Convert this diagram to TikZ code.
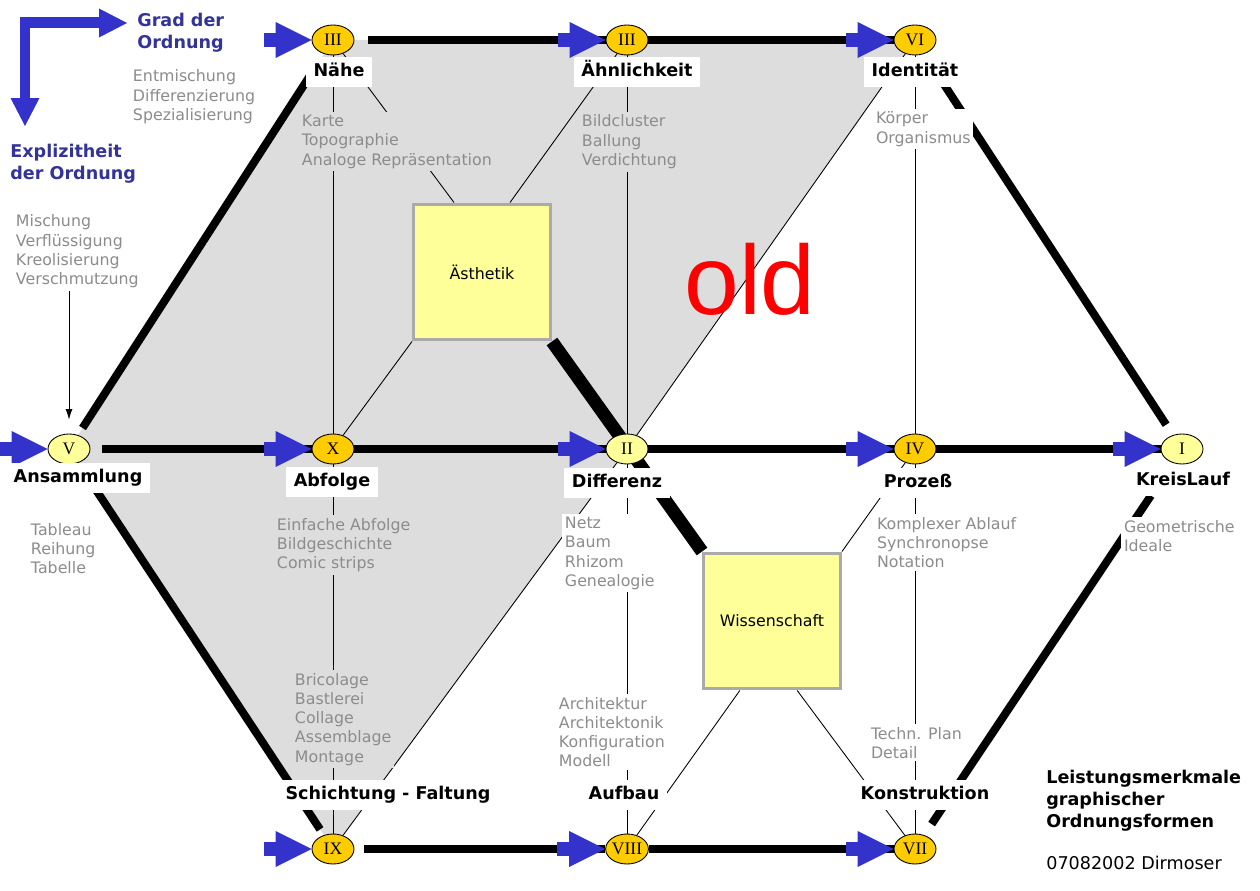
\documentclass[tikz,border=0pt]{standalone}
\usepackage{fontspec}
\setmainfont{DejaVu Sans}
\newfontfamily\numfont{Liberation Serif}
\newfontfamily\oldfont{Liberation Sans}
\usetikzlibrary{shapes.geometric,arrows.meta,calc}

\definecolor{numorange}{RGB}{255,204,0}
\definecolor{numyellow}{RGB}{255,255,153}
\definecolor{shadegray}{RGB}{221,221,221}
\definecolor{notegray}{RGB}{140,140,140}
\definecolor{boxgray}{RGB}{170,170,170}
\definecolor{feedblue}{RGB}{51,51,204}
\definecolor{headblue}{RGB}{51,51,153}

\pgfdeclarelayer{shade}
\pgfdeclarelayer{lines}
\pgfsetlayers{shade,lines,main}

\tikzset{
  ordnum/.style={ellipse, draw, line width=0.5pt, minimum width=0.84cm, minimum height=0.6cm,
    inner sep=0pt, font=\numfont\fontsize{10}{12}\selectfont},
  darknum/.style={ordnum, fill=numorange},
  lightnum/.style={ordnum, fill=numyellow},
  fieldbox/.style={draw=boxgray, line width=1.7pt, fill=numyellow, minimum width=2.74cm,
    minimum height=2.72cm, inner sep=0pt, font=\fontsize{9}{11}\selectfont},
  catlabel/.style={fill=white, inner xsep=4.5pt, inner ysep=3.5pt, text height=0.75em,
    text depth=0.25em, font=\bfseries\fontsize{10}{12}\selectfont},
  notes/.style={anchor=north west, align=left, inner sep=1.5pt, text=notegray,
    font=\fontsize{9}{11}\selectfont},
  titletext/.style={anchor=north west, align=left, inner sep=0pt,
    font=\bfseries\fontsize{10}{12.5}\selectfont},
  hexline/.style={line width=0.16cm},
  guide/.style={line width=0.5pt},
  feedarrow/.style={draw=feedblue, line width=0.28cm,
    -{Triangle[length=0.72cm,width=0.72cm,line width=0pt]}},
}

\begin{document}
\begin{tikzpicture}[x=0.02cm,y=-0.02cm]
  \useasboundingbox (0,0) rectangle (1260,891);

  % ordinal positions
  \node[darknum]  (IIIa) at (333,40)  {III};
  \node[darknum]  (IIIb) at (627,40)  {III};
  \node[darknum]  (VI)   at (915,40)  {VI};
  \node[lightnum] (V)    at (69,449)  {V};
  \node[darknum]  (X)    at (333,449) {X};
  \node[lightnum] (II)   at (627,449) {II};
  \node[darknum]  (IV)   at (915,449) {IV};
  \node[lightnum] (I)    at (1182,449) {I};
  \node[darknum]  (IX)   at (333,849) {IX};
  \node[darknum]  (VIII) at (627,849) {VIII};
  \node[darknum]  (VII)  at (915,849) {VII};

  % fields
  \node[fieldbox] (aesth) at (482,272) {Ästhetik};
  \node[fieldbox] (wiss)  at (772,621) {Wissenschaft};

  % category labels
  \node[catlabel] (naehe)   at (339,72)  {Nähe};
  \node[catlabel] (aehnl)   at (637,72)  {Ähnlichkeit};
  \node[catlabel] (ident)   at (915,72)  {Identität};
  \node[catlabel] (samml)   at (78,478)  {Ansammlung};
  \node[catlabel] (abfolge) at (332,482) {Abfolge};
  \node[catlabel] (diff)    at (617,483) {Differenz};
  \node[catlabel] (prozess) at (918,483) {Prozeß};
  \node[catlabel] (kreis)   at (1183,481) {KreisLauf};
  \node[catlabel] (schicht) at (388,795) {Schichtung - Faltung};
  \node[catlabel] (aufbau)  at (624,795) {Aufbau};
  \node[catlabel] (konstr)  at (925,795) {Konstruktion};

  % notes
  \node[notes, fill=white]     (entm)    at (130,67)  {Entmischung\\Differenzierung\\Spezialisierung};
  \node[notes, fill=shadegray] (karte)   at (299,112) {Karte\\Topographie\\Analoge Repräsentation};
  \node[notes, fill=shadegray] (bild)    at (579,112) {Bildcluster\\Ballung\\Verdichtung};
  \node[notes, fill=white]     (koerper) at (873,109) {Körper\\Organismus};
  \node[notes, fill=white]     (mix)     at (13,212)  {Mischung\\Verflüssigung\\Kreolisierung\\Verschmutzung};
  \node[notes, fill=white]     (tab)     at (28,520)  {Tableau\\Reihung\\Tabelle};
  \node[notes, fill=shadegray] (einf)    at (274,515) {Einfache Abfolge\\Bildgeschichte\\Comic strips};
  \node[notes, fill=white]     (netz)    at (562,514) {Netz\\Baum\\Rhizom\\Genealogie};
  \node[notes, fill=white]     (kompl)   at (874,514) {Komplexer Ablauf\\Synchronopse\\Notation};
  \node[notes, fill=white]     (geo)     at (1121,517) {Geometrische\\Ideale};
  \node[notes, fill=shadegray] (brico)   at (292,670) {Bricolage\\Bastlerei\\Collage\\Assemblage\\Montage};
  \node[notes, fill=white]     (archi)   at (556,694) {Architektur\\Architektonik\\Konfiguration\\Modell};
  \node[notes, fill=white]     (techn)   at (868,724) {Techn. Plan\\Detail};

  % headings and legend
  \node[titletext, text=headblue] (grad) at (137,13)  {Grad der\\Ordnung};
  \node[titletext, text=headblue] (expl) at (10,144)  {Explizitheit\\der Ordnung};
  \node[titletext] (legend) at (1046,770) {Leistungsmerkmale\\graphischer\\Ordnungsformen};
  \node[anchor=north west, inner sep=0pt, font=\fontsize{10}{12}\selectfont] (sign) at (1046,856) {07082002 Dirmoser};
  \node[text=red, inner sep=0pt, font=\oldfont\fontsize{56}{60}\selectfont] (old) at (750,279) {old};

  \begin{pgfonlayer}{shade}
    \fill[shadegray] (V.center) -- (IIIa.center) -- (VI.center) -- (II.center) -- (IX.center) -- cycle;
  \end{pgfonlayer}

  \begin{pgfonlayer}{lines}
    % thin guides
    \draw[guide] (IIIa) -- (IX);
    \draw[guide] (IIIb) -- (VIII);
    \draw[guide] (VI) -- (VII);
    \draw[guide] (IIIa) -- ($(aesth.north west)!0.3!(aesth.north east)$);
    \draw[guide] (IIIb) -- ($(aesth.north west)!0.7!(aesth.north east)$);
    \draw[guide] (X) -- (aesth.south west);
    \draw[guide] (II) -- (VI);
    \draw[guide] (IX) -- (II);
    \draw[guide] (wiss.north east) -- (IV);
    \draw[guide] ($(wiss.south west)!0.27!(wiss.south east)$) -- (VIII);
    \draw[guide] ($(wiss.south west)!0.68!(wiss.south east)$) -- (VII);
    \draw[guide, -{Latex[length=6pt,width=4pt]}, shorten >=0.28cm] (mix.south -| V) -- (V.north);

    % hexagon
    \draw[hexline, shorten <=0.5cm, shorten >=0.6cm] (V.center) -- (IIIa.center);
    \draw[hexline, shorten <=0.5cm, shorten >=0.47cm] (V.center) -- (IX.center);
    \draw[hexline, shorten <=1cm, shorten >=0.58cm] (VI.center) -- (I.center);
    \draw[hexline, shorten <=1.12cm, shorten >=0.6cm] (I.center) -- (VII.center);
    \draw[hexline, shorten <=0.28cm] (IIIa.east) -- (IIIb);
    \draw[hexline] (IIIb) -- (VI);
    \draw[hexline, shorten <=0.24cm] (V.east) -- (X);
    \draw[hexline] (X) -- (II);
    \draw[hexline] (II) -- (IV);
    \draw[hexline] (IV) -- (I);
    \draw[hexline, shorten <=0.2cm] (IX.east) -- (VIII);
    \draw[hexline] (VIII) -- (VII);
    \draw[line width=0.26cm] (aesth.south east) -- (wiss.north west);

    % feeding arrows
    \foreach \nd in {IIIa,IIIb,VI,V,X,II,IV,I,IX,VIII,VII}
      \draw[feedarrow] ($(\nd.west)+(-48,0)$) -- (\nd.west);
    \draw[feedarrow, line width=0.22cm,
      {Triangle[length=0.56cm,width=0.58cm,line width=0pt]}-{Triangle[length=0.56cm,width=0.58cm,line width=0pt]}]
      (127,23) -- (25,23) -- (25,126);
  \end{pgfonlayer}
\end{tikzpicture}
\end{document}
